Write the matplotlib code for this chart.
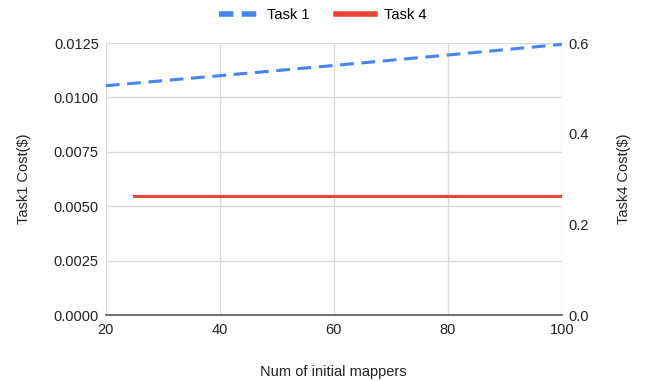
import matplotlib.pyplot as plt
from matplotlib.lines import Line2D
from matplotlib.ticker import FormatStrFormatter

plt.rcParams['font.family'] = ['Liberation Sans', 'DejaVu Sans']

# data
mappers_t1 = [20, 40, 60, 80, 100]
cost_t1 = [0.01054, 0.0110, 0.01147, 0.01195, 0.01244]
mappers_t4 = [25, 50, 75, 100]
cost_t4 = [0.262, 0.262, 0.262, 0.262]

left_ticks = [0.0, 0.0025, 0.005, 0.0075, 0.01, 0.0125]
right_ticks = [0.0, 0.2, 0.4, 0.6]
x_ticks = [20, 40, 60, 80, 100]

blue = '#4285F4'
red = '#EA4335'
grid_col = '#D9D9D9'
txt = '#222222'
fs = 10.5

fig = plt.figure(figsize=(6.45, 3.81), dpi=100)
ax = fig.add_axes([0.164, 0.173, 0.707, 0.714])
ax2 = ax.twinx()

ax.plot(mappers_t1, cost_t1, color=blue, lw=2.2, dashes=(4.5, 2.5), zorder=3)
ax2.plot(mappers_t4, cost_t4, color=red, lw=2.2, zorder=3)

ax.set_xlim(20, 100)
ax.set_ylim(0, 0.0125)
ax2.set_ylim(0, 0.6)
ax.set_xticks(x_ticks)
ax.set_yticks(left_ticks)
ax2.set_yticks(right_ticks)
ax.yaxis.set_major_formatter(FormatStrFormatter('%.4f'))
ax2.yaxis.set_major_formatter(FormatStrFormatter('%.1f'))

ax.grid(True, color=grid_col, lw=1)
ax.set_axisbelow(True)
for a in (ax, ax2):
    for s in ('top', 'left', 'right', 'bottom'):
        a.spines[s].set_visible(False)
    a.tick_params(length=0, labelsize=fs, colors=txt, pad=5)
ax.spines['bottom'].set_visible(True)
ax.spines['bottom'].set_color('#555555')
ax.spines['bottom'].set_linewidth(1.2)
ax.tick_params(axis='x', pad=6)

ax.set_xlabel('Num of initial mappers', fontsize=fs, color=txt, labelpad=20)
ax.set_ylabel('Task1 Cost($)', fontsize=fs, color=txt, labelpad=16)
ax2.set_ylabel('Task4 Cost($)', fontsize=fs, color=txt, labelpad=20)

# legend handles: two short dashes for Task 1, a solid bar for Task 4
handles = [Line2D([], [], color=blue, lw=4, dashes=(2.6, 1.5)),
           Line2D([], [], color=red, lw=4)]
fig.legend(handles, ['Task 1', 'Task 4'], loc='center', bbox_to_anchor=(0.5, 0.96), ncol=2,
           frameon=False, fontsize=fs, handlelength=2.7, columnspacing=1.8, handletextpad=0.6)

fig.savefig('out.png', dpi=100)
